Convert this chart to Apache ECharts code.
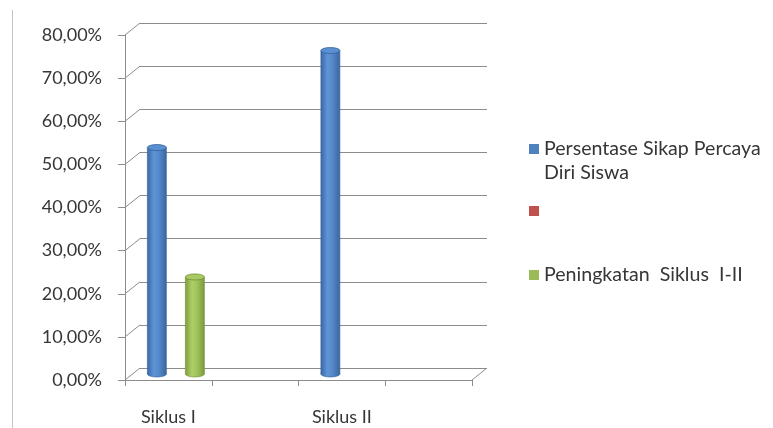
<!DOCTYPE html>
<html><head><meta charset="utf-8">
<script src="https://cdn.jsdelivr.net/npm/echarts@6/dist/echarts.min.js"></script>
<style>html,body{margin:0;padding:0;background:#fff}#c{width:773px;height:428px}</style>
</head><body><div id="c"></div>
<script>
// ---- data ----
const categories = ['Siklus I', '', 'Siklus II', ''];
const seriesNames = ['Persentase Sikap Percaya\nDiri Siswa', ' ', 'Peningkatan  Siklus  I-II'];
const persentase = [52.5, null, 75, null];
const kosong = [null, null, null, null];
const peningkatan = [22.5, null, null, null];
const yTicks = [0, 10, 20, 30, 40, 50, 60, 70, 80];

// ---- style constants ----
const FONT = 'Lato';
const TXT = '#363636';
const GRIDC = '#8c8c8c';
const DEPTH_X = 15, DEPTH_Y = 12;   // 3D wall offset
const BAR_DX = 7.5, BAR_DY = -6;    // bars sit mid-depth
const BAR_W = 19, SERIES_STEP = 19;

const palettes = [
  {base:'#4F81BD', stops:['#3a6aa6','#5f94d8','#5589cb','#3a679e'], top:'#5a8fd2', edge:'#35619a'},
  {base:'#C0504D', stops:['#a0403d','#d06461','#c85a57','#983a38'], top:'#cf605d', edge:'#8f3734'},
  {base:'#9BBB59', stops:['#809e40','#adcf66','#a2c45c','#7c9a3d'], top:'#a8c964', edge:'#728e36'}
];

function toData(arr){ const out=[]; arr.forEach((v,i)=>{ if(v!=null) out.push([i,v]); }); return out; }

function cylinder(si){
  const p = palettes[si];
  const off = (si-1)*SERIES_STEP;
  return function(params, api){
    const cat = api.value(0), v = api.value(1);
    const t = api.coord([cat, v]);
    const b = api.coord([cat, 0]);
    const cx = t[0] + off + BAR_DX;
    const ty = t[1] + BAR_DY, by = b[1] + BAR_DY;
    const w = BAR_W, ry = 3;
    const grad = new echarts.graphic.LinearGradient(0,0,1,0,[
      {offset:0,color:p.stops[0]},{offset:0.35,color:p.stops[1]},
      {offset:0.6,color:p.stops[2]},{offset:1,color:p.stops[3]}]);
    return {type:'group', children:[
      {type:'ellipse', shape:{cx:cx, cy:by, rx:w/2, ry:ry}, style:{fill:grad, stroke:p.edge, lineWidth:0.6}},
      {type:'rect', shape:{x:cx-w/2, y:ty, width:w, height:by-ty}, style:{fill:grad}},
      {type:'line', shape:{x1:cx-w/2, y1:ty, x2:cx-w/2, y2:by}, style:{stroke:p.edge, lineWidth:0.6}},
      {type:'line', shape:{x1:cx+w/2, y1:ty, x2:cx+w/2, y2:by}, style:{stroke:p.edge, lineWidth:0.6}},
      {type:'ellipse', shape:{cx:cx, cy:ty, rx:w/2, ry:ry}, style:{fill:p.top, stroke:p.edge, lineWidth:0.8}}
    ]};
  };
}

const chart = echarts.init(document.getElementById('c'), null, {renderer:'canvas'});
const legendText = {fontFamily:FONT, fontSize:19.6, color:TXT, lineHeight:24};
chart.setOption({
  backgroundColor:'#ffffff',
  animation:false,
  textStyle:{fontFamily:FONT},
  grid:[
    {left:125, right:301, top:35, bottom:48},
    {left:140, right:286, top:23, bottom:60}
  ],
  xAxis:[
    {type:'category', gridIndex:0, data:categories, boundaryGap:true,
     axisLine:{lineStyle:{color:GRIDC, width:1}},
     axisTick:{show:true, interval:0, length:6, lineStyle:{color:GRIDC}},
     axisLabel:{interval:0, margin:28, fontFamily:FONT, fontSize:18, color:TXT},
     splitLine:{show:false}},
    {type:'value', gridIndex:1, min:0, max:1, show:false}
  ],
  yAxis:[
    {type:'value', gridIndex:0, min:0, max:80, interval:10,
     axisLine:{show:true, lineStyle:{color:GRIDC, width:1}},
     axisTick:{show:true, length:7, lineStyle:{color:GRIDC}},
     axisLabel:{margin:23, fontFamily:FONT, fontSize:18, color:TXT, padding:[4,0,0,0],
       formatter:v=>v.toFixed(2).replace('.', ',')+'%'},
     splitLine:{show:false}},
    {type:'value', gridIndex:1, min:0, max:80, interval:10,
     axisLine:{show:false}, axisTick:{show:false}, axisLabel:{show:false},
     splitLine:{show:true, lineStyle:{color:GRIDC, width:1}}}
  ],
  legend:[
    {data:[seriesNames[0]], orient:'vertical', left:529, top:113, padding:0,
     itemWidth:10, itemHeight:10, icon:'rect', itemGap:0, selectedMode:false,
     formatter:name=>'\n'+name, textStyle:legendText},
    {data:[seriesNames[1]], orient:'vertical', left:529, top:199, padding:0,
     itemWidth:10, itemHeight:10, icon:'rect', selectedMode:false, textStyle:legendText},
    {data:[seriesNames[2]], orient:'vertical', left:529, top:263, padding:0,
     itemWidth:10, itemHeight:10, icon:'rect', selectedMode:false, textStyle:legendText}
  ],
  graphic:[
    {type:'line', shape:{x1:12.5, y1:10, x2:12.5, y2:428}, style:{stroke:'#c4c4c4', lineWidth:1}, silent:true}
  ],
  series:[
    {type:'custom', name:'wall', xAxisIndex:1, yAxisIndex:1, silent:true, z:1,
     data:yTicks.map(v=>[0,v]),
     renderItem:function(params, api){
       const v = api.value(1);
       const p = api.coord([0, v]);
       const children = [{type:'line', shape:{x1:p[0]-DEPTH_X, y1:p[1]+DEPTH_Y, x2:p[0], y2:p[1]},
         style:{stroke:GRIDC, lineWidth:1}}];
       if (v === 0) {
         const q = api.coord([1, 0]);
         children.push({type:'line', shape:{x1:q[0]-DEPTH_X, y1:q[1]+DEPTH_Y, x2:q[0], y2:q[1]},
           style:{stroke:GRIDC, lineWidth:1}});
       }
       return {type:'group', children:children};
     }},
    {type:'custom', name:seriesNames[0], xAxisIndex:0, yAxisIndex:0, z:3,
     itemStyle:{color:palettes[0].base}, data:toData(persentase), renderItem:cylinder(0)},
    {type:'custom', name:seriesNames[1], xAxisIndex:0, yAxisIndex:0, z:3,
     itemStyle:{color:palettes[1].base}, data:toData(kosong), renderItem:cylinder(1)},
    {type:'custom', name:seriesNames[2], xAxisIndex:0, yAxisIndex:0, z:3,
     itemStyle:{color:palettes[2].base}, data:toData(peningkatan), renderItem:cylinder(2)}
  ]
});
</script></body></html>
